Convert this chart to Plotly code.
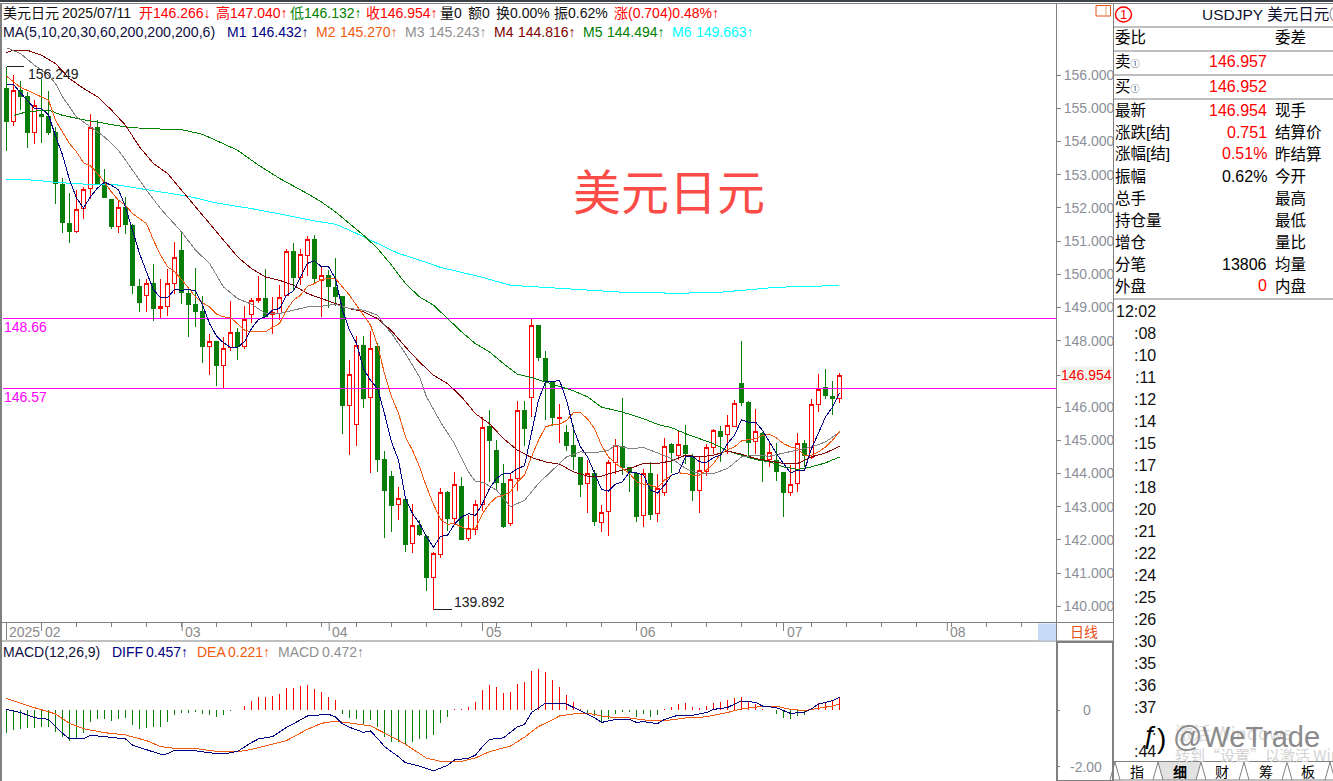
import plotly.graph_objects as go

W, H = 1333, 781
FONT = "Liberation Sans, Arimo, Arial, 'Noto Sans CJK SC', sans-serif"
CJK = "'Noto Sans CJK SC', sans-serif"

# ---------- candles (USDJPY daily) ----------
OPEN = [155.60,154.60,155.53,155.37,154.26,154.83,154.75,154.28,152.72,151.53,151.28,151.98,152.58,154.42,152.75,152.25,151.43,152.01,151.48,149.64,
        149.36,149.72,148.96,149.04,149.71,150.73,149.42,149.10,148.87,147.82,147.98,147.26,147.80,148.25,147.82,148.80,149.22,149.27,148.78,148.82,
        149.37,150.70,149.92,150.58,151.05,149.80,149.96,149.60,149.32,146.05,145.48,147.85,146.28,147.83,144.43,143.92,143.06,143.22,141.89,142.44,
        142.11,140.87,141.56,143.44,142.64,143.62,142.04,142.31,143.06,145.42,144.70,143.70,142.49,143.85,145.90,146.29,148.47,147.46,146.73,145.66,
        145.24,144.85,144.48,143.70,144.00,142.52,142.85,144.32,144.82,144.18,144.00,142.72,144.00,142.79,143.44,144.88,144.55,144.85,144.52,143.48,
        144.05,144.77,145.27,145.16,145.42,146.71,146.15,144.95,145.20,144.42,144.38,144.04,143.43,143.69,144.90,144.47,146.08,146.59,146.33,146.266]
HIGH = [156.249,156.00,155.82,155.50,155.25,155.90,155.53,154.44,152.89,152.45,152.54,152.64,154.82,154.64,153.16,152.27,152.23,152.33,151.51,149.87,
        149.87,150.31,149.87,150.15,150.98,151.28,149.62,150.18,149.34,148.20,147.99,148.12,149.19,148.37,149.04,149.28,149.95,150.15,149.32,149.67,
        150.75,150.95,150.75,151.15,151.20,150.25,150.12,150.48,149.32,147.43,148.14,148.14,148.30,147.92,144.67,144.06,143.58,143.24,143.07,142.60,
        142.14,141.64,143.57,143.47,144.03,143.88,142.74,143.19,145.70,145.90,145.00,144.28,143.98,146.17,146.18,148.65,148.47,147.68,146.73,146.09,
        145.45,145.45,144.50,144.40,144.12,143.06,144.42,145.05,146.26,144.20,144.00,144.15,144.36,143.98,145.07,144.92,145.28,145.45,144.58,144.50,
        144.90,145.35,145.42,145.76,146.20,148.00,146.18,145.93,145.25,144.92,144.92,144.05,144.25,145.23,145.00,146.24,146.99,147.16,146.78,147.040]
LOW = [153.72,154.46,154.95,153.81,153.92,153.96,154.19,152.11,151.25,150.95,151.25,151.67,152.28,152.73,152.31,151.38,151.25,151.23,149.42,148.87,
       148.87,148.60,148.67,148.74,149.42,149.12,148.12,148.42,147.33,146.96,146.63,146.56,147.70,147.41,147.75,148.52,149.14,148.70,148.20,148.62,
       149.37,149.53,149.67,149.95,149.72,148.72,148.99,149.04,145.18,144.55,144.82,145.96,144.02,144.05,142.05,142.24,142.59,141.64,141.61,142.11,
       140.46,139.892,141.46,142.27,142.47,142.01,141.97,142.14,142.87,143.75,143.52,142.37,142.41,143.47,144.82,145.70,147.39,145.60,145.42,144.92,
       144.68,144.10,143.29,142.81,142.41,142.24,142.12,143.98,143.95,143.44,142.54,142.39,142.59,142.54,143.31,144.00,144.40,144.30,143.16,142.81,
       143.92,144.58,144.35,144.60,145.42,146.03,144.50,144.60,143.75,144.20,143.78,142.69,143.32,143.44,144.20,144.45,145.86,146.23,145.75,146.132]
CLOSE = [154.60,155.55,155.37,154.26,155.09,154.75,154.28,152.74,151.55,151.30,151.95,152.55,154.42,152.75,152.33,151.43,152.01,151.49,149.67,149.14,
         149.73,148.96,149.04,149.71,150.51,149.44,149.10,148.87,147.82,147.98,147.26,147.76,148.25,147.82,148.65,149.20,149.27,148.72,148.85,149.30,
         150.68,149.92,150.60,151.05,149.87,149.96,149.62,149.32,146.05,146.98,147.85,146.26,147.76,144.43,143.50,143.03,143.24,141.87,142.43,142.17,
         140.86,141.59,143.43,142.64,143.67,142.02,142.33,143.06,145.38,144.98,143.72,142.39,143.82,145.90,145.37,148.45,147.48,146.76,145.70,145.68,
         144.85,144.50,143.68,144.00,142.54,142.82,144.33,144.85,144.18,144.02,142.69,144.00,142.77,143.55,144.81,144.62,144.87,144.60,143.50,144.09,
         144.78,145.29,145.12,145.44,146.10,146.15,144.92,145.26,144.42,144.62,144.05,143.42,143.67,144.90,144.55,146.08,146.54,146.34,146.25,146.954]

# ---------- moving averages ----------
M1 = [155.72,155.72,155.47,155.25,155.00,155.00,154.80,154.17,153.60,152.85,152.30,152.00,152.34,152.60,152.78,152.68,152.55,152.03,151.33,150.63,
      150.07,149.53,149.30,149.30,149.54,149.52,149.54,149.50,149.08,148.52,148.14,147.94,147.80,147.80,147.97,148.37,148.64,148.72,148.92,148.97,
      149.37,149.50,149.92,150.33,150.41,150.23,150.23,149.87,148.92,148.32,147.92,147.16,146.81,146.56,145.81,144.95,144.40,143.25,142.79,142.49,
      142.09,141.78,142.10,142.14,142.47,142.69,142.79,142.74,143.09,143.55,143.85,144.00,144.00,144.15,144.23,145.25,146.21,146.76,146.76,146.81,
      146.21,145.35,144.80,144.50,144.00,143.52,143.47,143.68,143.75,144.05,144.02,143.95,143.50,143.41,143.65,143.95,144.02,144.50,144.52,144.35,
      144.33,144.48,144.55,144.90,145.15,145.62,145.55,145.55,145.30,144.95,144.60,144.30,144.02,144.10,144.10,144.75,145.25,145.70,146.00,146.432]
M2 = [155.97,155.80,155.63,155.54,155.45,155.35,155.25,154.64,154.29,153.94,153.69,153.36,153.27,153.04,152.77,152.48,152.23,152.08,151.83,151.68,
      151.53,151.03,150.58,150.23,150.08,149.85,149.57,149.32,149.14,149.02,148.80,148.72,148.70,148.52,148.32,148.27,148.27,148.27,148.40,148.52,
      148.92,149.22,149.37,149.64,149.72,149.85,149.87,149.87,149.62,149.37,149.07,148.77,148.47,147.87,147.01,146.31,145.81,145.10,144.70,144.20,
      143.60,143.07,142.62,142.47,142.49,142.39,142.31,142.34,142.79,143.09,143.29,143.34,143.45,143.75,143.95,144.50,145.00,145.40,145.47,145.48,
      145.60,145.83,145.83,145.65,145.35,144.85,144.50,144.30,144.15,144.00,143.75,143.68,143.65,143.57,143.80,143.95,144.02,144.00,143.95,143.95,
      144.10,144.30,144.58,144.72,144.80,144.98,145.02,145.05,145.15,145.18,145.07,144.90,144.80,144.75,144.55,144.55,144.65,144.80,145.00,145.270]
M3_I = [0,2,4,6,7,8,9,10,12,14,16,18,20,22,24,25,27,29,31,33,35,37,39,41,43,45,47,49,51,53,54,55,57,59,60,62,64,66,67,68,70,72,74,76,78,80,82,84,86,87,89,91,93,95,97,99,101,103,105,107,109,111,113,115,117,119]
M3 = [156.83,156.65,156.30,156.00,155.75,155.35,155.05,154.74,154.44,154.14,153.74,153.14,152.54,151.98,151.53,151.28,150.73,150.33,149.62,149.27,149.10,148.82,148.82,148.92,149.02,149.04,149.10,148.97,148.92,148.77,148.47,148.22,147.61,146.91,146.31,145.55,144.90,144.05,143.75,143.74,143.50,143.00,143.19,143.70,144.10,144.50,144.65,144.62,144.70,144.85,144.75,144.78,144.62,144.45,144.15,143.98,144.00,144.15,144.50,144.55,144.52,144.62,144.72,144.80,144.95,145.243]
M4_I = [0,1,3,5,7,9,11,13,15,17,19,21,23,25,27,29,31,33,35,37,39,41,43,45,47,49,51,53,55,57,59,61,63,65,67,69,71,73,75,77,79,81,83,85,87,89,91,93,95,97,99,101,103,105,107,109,111,113,115,117,119]
M4 = [156.68,156.75,156.75,156.60,156.35,155.90,155.60,155.35,154.95,154.49,153.84,153.34,153.04,152.54,152.03,151.53,151.03,150.53,150.17,149.92,149.82,149.67,149.42,149.27,149.12,148.97,148.87,148.67,148.30,147.81,147.36,146.96,146.71,146.31,145.80,145.50,145.05,144.70,144.48,144.35,144.28,144.05,143.92,143.92,144.05,144.15,144.30,144.30,144.38,144.55,144.50,144.55,144.68,144.58,144.45,144.38,144.30,144.30,144.50,144.62,144.816]
M5_I = [1,3,6,8,11,14,17,20,25,28,31,33,36,39,43,45,47,49,51,53,55,57,59,61,63,65,67,69,71,73,75,77,79,81,83,85,87,89,91,93,95,97,99,101,103,105,107,109,111,113,115,117,119]
M5 = [154.79,154.90,154.95,154.79,154.66,154.54,154.44,154.39,154.36,154.22,153.94,153.74,153.29,152.89,152.43,152.18,151.88,151.53,151.18,150.78,150.28,149.72,149.32,149.07,148.67,148.27,147.91,147.66,147.31,146.99,146.89,146.76,146.63,146.49,146.31,146.00,145.90,145.79,145.65,145.48,145.38,145.20,145.05,144.90,144.68,144.55,144.42,144.35,144.20,144.12,144.20,144.32,144.494]
M6_I = [0,4,7,11,15,20,26,30,35,40,44,47,49,53,56,59,62,68,72,79,88,96,102,110,119]
M6 = [152.86,152.84,152.77,152.72,152.72,152.56,152.35,152.15,151.98,151.78,151.61,151.51,151.33,150.93,150.63,150.43,150.21,149.91,149.67,149.58,149.46,149.43,149.46,149.61,149.663]

LEVEL_VALUES = [148.66, 146.57]
LEVEL_LABELS = ["148.66", "146.57"]

# ---------- MACD ----------
MACD = [-0.80,-0.71,-0.68,-0.65,-0.62,-0.59,-0.59,-0.76,-0.96,-1.08,-1.04,-0.82,-0.41,-0.33,-0.31,-0.38,-0.33,-0.29,-0.53,-0.66,
        -0.64,-0.61,-0.59,-0.41,-0.18,-0.12,-0.09,-0.06,-0.15,-0.18,-0.24,-0.18,-0.02,0.00,0.14,0.32,0.45,0.45,0.49,0.56,
        0.76,0.78,0.85,0.88,0.74,0.65,0.47,0.35,-0.14,-0.29,-0.32,-0.49,-0.35,-0.59,-0.94,-1.12,-1.14,-1.24,-1.13,-1.04,
        -1.04,-0.88,-0.45,-0.24,0.04,0.04,0.09,0.28,0.71,0.87,0.80,0.61,0.64,0.92,1.00,1.39,1.44,1.34,1.06,0.81,
        0.53,0.28,0.02,-0.12,-0.21,-0.41,-0.33,-0.14,-0.08,-0.06,-0.24,-0.15,-0.24,-0.16,0.02,0.12,0.21,0.24,0.09,0.06,
        0.14,0.24,0.29,0.35,0.41,0.45,0.32,0.21,0.03,0.00,-0.14,-0.27,-0.33,-0.21,-0.16,0.03,0.24,0.29,0.35,0.472]
DIFF_I = [0,2,4,6,8,9,11,12,14,17,18,20,22,23,24,27,29,31,33,35,36,38,40,42,43,46,47,48,49,51,52,53,54,56,57,59,61,63,64,66,67,68,69,71,73,74,75,77,79,80,82,84,85,87,89,90,91,93,94,96,98,100,101,103,105,107,108,110,112,114,115,116,118,119]
DIFF = [0.02,-0.09,-0.27,-0.33,-0.82,-1.02,-1.02,-0.89,-0.94,-1.02,-1.24,-1.39,-1.56,-1.55,-1.42,-1.44,-1.51,-1.55,-1.46,-1.15,-1.02,-0.94,-0.61,-0.35,-0.21,-0.15,-0.24,-0.49,-0.61,-0.79,-0.74,-1.00,-1.29,-1.65,-1.86,-1.98,-2.15,-1.95,-1.76,-1.70,-1.59,-1.29,-1.04,-0.98,-0.59,-0.51,-0.09,0.24,0.24,0.21,-0.02,-0.27,-0.44,-0.33,-0.33,-0.44,-0.41,-0.48,-0.33,-0.18,-0.19,-0.09,0.02,0.09,0.32,0.27,0.14,0.08,-0.12,-0.08,0.04,0.21,0.33,0.457]
DEA_I = [0,2,4,6,7,9,11,14,17,20,22,24,27,30,33,35,38,40,43,45,47,49,52,55,57,60,62,65,67,69,72,74,76,78,79,81,83,85,87,89,92,94,97,100,103,105,108,110,112,114,116,118,119]
DEA = [0.41,0.24,0.08,-0.06,-0.14,-0.47,-0.66,-0.80,-0.88,-1.08,-1.29,-1.35,-1.36,-1.46,-1.47,-1.39,-1.20,-1.08,-0.68,-0.47,-0.39,-0.45,-0.56,-0.94,-1.21,-1.70,-1.81,-1.81,-1.69,-1.47,-1.27,-0.96,-0.58,-0.35,-0.21,-0.14,-0.11,-0.21,-0.27,-0.28,-0.38,-0.38,-0.28,-0.24,-0.09,0.04,0.13,0.13,0.02,-0.02,0.06,0.14,0.221]

# ---------- time axis ----------
CANDLE_TICKS = list(range(0, 146, 5))
MONTH_LABELS = ["02", "03", "04", "05", "06", "07", "08"]
MONTH_POS = [5, 25.1, 46.1, 68, 90, 111, 134.4]
PRICE_TICKS = [156,155,154,153,152,151,150,149,148,146,145,144,143,142,141,140]
LAST_PRICE = 146.954

# ---------- text panels ----------
QUOTE_ROWS = [("最新","146.954","#ff0000","现手"),("涨跌[结]","0.751","#ff0000","结算价"),("涨幅[结]","0.51%","#ff0000","昨结算"),
              ("振幅","0.62%","#000000","今开"),("总手","","#000000","最高"),("持仓量","","#000000","最低"),
              ("增仓","","#000000","量比"),("分笔","13806","#000000","均量"),("外盘","0","#ff0000","内盘")]
TICK_TIMES = ["12:02",":08",":10",":11",":12",":14",":15",":17",":18",":20",":21",":22",":24",":25",":26",":30",":35",":36",":37",":",":44"]
TABS = ["指","<b>细</b>","财","筹","板"]

RED, GREEN = "#ff0000", "#087d08"
NAVY, ORANGE, GRAY, MAROON, LINEG, CYAN = "#000080", "#f05a10", "#808080", "#800000", "#008000", "#00ffff"
AXIS = "#808080"

fx = lambda p: p / W
fy = lambda p: 1 - p / H
IDX = list(range(len(OPEN)))

fig = go.Figure()
for val in LEVEL_VALUES:
    fig.add_trace(go.Scatter(x=[-1, 151], y=[val, val], mode="lines", line=dict(color="#ff00ff", width=1), hoverinfo="skip"))
fig.add_trace(go.Candlestick(x=IDX, open=OPEN, high=HIGH, low=LOW, close=CLOSE, whiskerwidth=0,
    increasing=dict(line=dict(color=RED, width=1), fillcolor="#ffffff"),
    decreasing=dict(line=dict(color=GREEN, width=1), fillcolor=GREEN)))
for xs, ys, col in [(M6_I, M6, CYAN), (M5_I, M5, LINEG), (M4_I, M4, MAROON), (M3_I, M3, GRAY), (IDX, M2, ORANGE), (IDX, M1, NAVY)]:
    fig.add_trace(go.Scatter(x=xs, y=ys, mode="lines", line=dict(color=col, width=1), hoverinfo="skip"))
# high / low callout leaders
fig.add_trace(go.Scatter(x=[0, 2.5], y=[HIGH[0], HIGH[0]], mode="lines", line=dict(color="#202020", width=1), hoverinfo="skip"))
fig.add_trace(go.Scatter(x=[61, 63.6], y=[LOW[61], LOW[61]], mode="lines", line=dict(color="#202020", width=1), hoverinfo="skip"))
# MACD histogram: one thin stem per day
for col, test in [(RED, lambda v: v > 0), (GREEN, lambda v: v < 0)]:
    sx, sy = [], []
    for i, v in zip(IDX, MACD):
        if test(v):
            sx += [i, i, None]
            sy += [0, v, None]
    fig.add_trace(go.Scatter(x=sx, y=sy, mode="lines", line=dict(color=col, width=1), xaxis="x2", yaxis="y2", hoverinfo="skip"))
fig.add_trace(go.Scatter(x=DEA_I, y=DEA, mode="lines", line=dict(color=ORANGE, width=1), xaxis="x2", yaxis="y2", hoverinfo="skip"))
fig.add_trace(go.Scatter(x=DIFF_I, y=DIFF, mode="lines", line=dict(color=NAVY, width=1), xaxis="x2", yaxis="y2", hoverinfo="skip"))

XR = [(3 - 6.5) / 7, (1056 - 6.5) / 7]
ann = []
def txt(x, y, s, size=14, color="#000000", anchor="left", font=FONT, **kw):
    if anchor == "left":
        x -= 2
    elif anchor == "right":
        x += 2
    ann.append(dict(xref="paper", yref="paper", x=fx(x), y=fy(y), text=s, showarrow=False, xanchor=anchor, yanchor="middle",
                    font=dict(family=font, size=size, color=color), align=anchor, **kw))

# header row 1
txt(2.5, 13.5, "美元日元", color="#101010")
txt(62, 13.5, "2025/07/11", color="#101010")
for x, lab, val, c in [(139,"开","146.266↓",RED),(215.5,"高","147.040↑",RED),(290,"低","146.132↑","#008000"),(365.5,"收","146.954↑",RED)]:
    txt(x, 13.5, lab + val, color=c)
for x, s in [(440,"量0"),(468,"额0"),(495.5,"换0.00%"),(553.5,"振0.62%")]:
    txt(x, 13.5, s, color="#101010")
txt(614, 13.5, "涨(0.704)0.48%↑", color=RED)
# header row 2
txt(2.5, 32, "MA(5,10,20,30,60,200,200,200,6)", size=14.2, color="#101040")
for x, lab, val, c in [(227,"M1","146.432↑",NAVY),(316,"M2","145.270↑",ORANGE),(405,"M3","145.243↑","#909090"),
                       (494,"M4","144.816↑",MAROON),(583,"M5","144.494↑",LINEG),(672,"M6","149.663↑",CYAN)]:
    txt(x, 32, lab, color=c)
    txt(x + 24, 32, val, color=c)
# levels & callouts
for val, lab, y in zip(LEVEL_VALUES, LEVEL_LABELS, [327, 397]):
    txt(4, y, lab, color="#ff00ff")
txt(28, 74, "156.249", color="#202020")
txt(454, 602, "139.892", color="#202020")
# big title
txt(669, 188.5, "美元日元", size=48, color="#fb4c48", anchor="center", font=CJK)
# time axis
txt(9, 632, "2025", color="#8a8a8a")
for lab, pos in zip(MONTH_LABELS, MONTH_POS):
    ann.append(dict(xref="x", yref="paper", x=pos, y=fy(632), text=lab, showarrow=False, xanchor="left", xshift=1, yanchor="middle",
                    font=dict(family=FONT, size=14, color="#8a8a8a")))
txt(1084, 631, "日线", size=14, color="#e8501a", anchor="center", font=CJK)
# price callout
txt(1086.5, 375, "146.954", color="#ff0000", anchor="center", bgcolor="#eef3ee", borderpad=0)
# MACD titles
txt(2.5, 652, "MACD(12,26,9)", color="#101040")
txt(112, 652, "DIFF", color=NAVY); txt(146, 652, "0.457↑", color=NAVY)
txt(197, 652, "DEA", color=ORANGE); txt(228, 652, "0.221↑", color=ORANGE)
txt(278, 652, "MACD", color="#909090"); txt(322, 652, "0.472↑", color="#909090")
txt(1087, 710, "0", color="#8a8f99", anchor="center")
txt(1086, 767, "-2.00", color="#8a8f99", anchor="center")
# info panel
txt(1201.5, 15, "USDJPY 美元日元①", size=15.5, color="#101030")
txt(1123.5, 15, "1", size=13, color=RED, anchor="center")
txt(1115, 38, "委比", size=15.5); txt(1275, 38, "委差", size=15.5)
txt(1115, 62, "卖<span style='font-size:9px;color:#405070'>①</span>", size=15.5); txt(1267, 62, "146.957", size=16, color=RED, anchor="right")
txt(1115, 86, "买<span style='font-size:9px;color:#405070'>①</span>", size=15.5); txt(1267, 86, "146.952", size=16, color=RED, anchor="right")
for k, (a, v, c, b) in enumerate(QUOTE_ROWS):
    y = 110 + k * 22
    txt(1115, y, a, size=15.5)
    if v:
        txt(1267, y, v, size=16, color=c, anchor="right")
    txt(1275, y, b, size=15.5)
for k, t in enumerate(TICK_TIMES):
    txt(1156, 311 + k * 22, t, size=16, anchor="right", color="#101010")
for x, t in zip([1137, 1180, 1222, 1266, 1308], TABS):
    txt(x, 771, t, size=14, anchor="center", font=CJK)
# overlays
txt(1175, 732, "激活 Windows", size=18, color="#dcdcdc", font=CJK)
txt(1175, 754, "转到“设置”以激活 Windows", size=15, color="#d2d2d2", font=CJK)
txt(1173, 737, "@WeTrade", size=29, color="#8a8a8a", font=FONT)
txt(1150, 735, "ƒ", size=26, color="#000000", anchor="center", font=FONT)
txt(1161, 738, ")", size=28, color="#000000", anchor="center", font=FONT)

def line(x0, y0, x1, y1, c=AXIS, w=1):
    return dict(type="line", xref="paper", yref="paper", x0=fx(x0), y0=fy(y0), x1=fx(x1), y1=fy(y1), line=dict(color=c, width=w), layer="above")
def rect(x0, y0, x1, y1, fill="rgba(0,0,0,0)", c="rgba(0,0,0,0)", w=0):
    return dict(type="rect", xref="paper", yref="paper", x0=fx(x0), y0=fy(y0), x1=fx(x1), y1=fy(y1), fillcolor=fill, line=dict(color=c, width=w), layer="above")

shapes = [
    rect(0, 0, W, 2, "#3c4248"),
    line(0, 3.5, W, 3.5),
    line(1, 3, 1, H, AXIS, 2),
    line(1056.5, 3, 1056.5, 641),
    line(0, 622.5, 1113, 622.5),
    line(0, 641, 1113, 641),
    line(1113.5, 3, 1113.5, H),
    rect(1057, 642, 1113, H, "rgba(0,0,0,0)", AXIS, 2),
    rect(1038, 623.5, 1056, 640.5, "#c5dbf5"),
    rect(1096, 5.5, 1110.5, 16, "rgba(0,0,0,0)", "#e8501a", 1),
    line(1106, 5.5, 1106, 16, "#e8a070"),
    dict(type="circle", xref="paper", yref="paper", x0=fx(1115.5), y0=fy(7), x1=fx(1131.5), y1=fy(22), line=dict(color=RED, width=1.5), layer="above"),
    line(6.5, 622, 6.5, 640),
]
for y in [27, 51, 75, 99, 299]:
    shapes.append(line(1113, y, W, y))
for pos in MONTH_POS:
    shapes.append(dict(type="line", xref="x", yref="paper", x0=pos, x1=pos, y0=fy(622), y1=fy(631), line=dict(color=AXIS, width=1), layer="above"))
# tab strip
shapes.append(line(1113, 761.5, W, 761.5))
shapes.append(dict(type="path", xref="paper", yref="paper", layer="below", fillcolor="#e2e2e2", line=dict(width=0),
                   path=f"M {fx(1158)} {fy(762)} L {fx(1163)} {fy(780)} L {fx(1196)} {fy(780)} L {fx(1201)} {fy(762)} Z"))
for x in [1115, 1158, 1201, 1244, 1287, 1330]:
    shapes.append(line(x, 762, x + 5, 780))
    shapes.append(line(x - 5, 780, x, 762))
shapes.append(line(1113, 780, W, 780))

Y156 = 75.2
fig.update_layout(
    width=W, height=H, margin=dict(l=0, r=0, t=0, b=0), paper_bgcolor="#ffffff", plot_bgcolor="rgba(0,0,0,0)",
    showlegend=False, boxgap=0.3, font=dict(family=FONT, size=14),
    xaxis=dict(domain=[fx(3), fx(1056)], range=XR, rangeslider=dict(visible=False), showgrid=False, zeroline=False, anchor="y",
               tickmode="array", tickvals=CANDLE_TICKS, ticks="outside", ticklen=4, tickcolor=AXIS, showticklabels=False, showline=False),
    yaxis=dict(domain=[fy(622), fy(2)], range=[156 - (622 - Y156) / 33.19, 156 - (2 - Y156) / 33.19], side="right", anchor="x",
               showgrid=False, zeroline=False, tickmode="array", tickvals=PRICE_TICKS + [LAST_PRICE],
               ticktext=[f"{v:.3f}" for v in PRICE_TICKS] + [" "], ticks="outside", ticklen=4,
               tickcolor=AXIS, tickfont=dict(family=FONT, size=14, color="#8a8f99"), showline=False),
    xaxis2=dict(domain=[fx(3), fx(1056)], range=XR, visible=False, anchor="y2"),
    yaxis2=dict(domain=[0, fy(642)], range=[-(781 - 710) / 28.35, (710 - 642) / 28.35], side="right", anchor="x2", showgrid=False, zeroline=False,
                tickmode="array", tickvals=[0, -2], ticks="outside", ticklen=3, tickcolor=AXIS, showticklabels=False, showline=False),
    annotations=ann, shapes=shapes,
)
crisp = ("document.body.style.margin='0';document.body.style.overflow='hidden';"
         "var s=document.createElement('style');s.textContent='.js-line,.boxes path{shape-rendering:crispEdges}';document.head.appendChild(s);")
fig.write_html("out.html", post_script=crisp, config=dict(displayModeBar=False))
